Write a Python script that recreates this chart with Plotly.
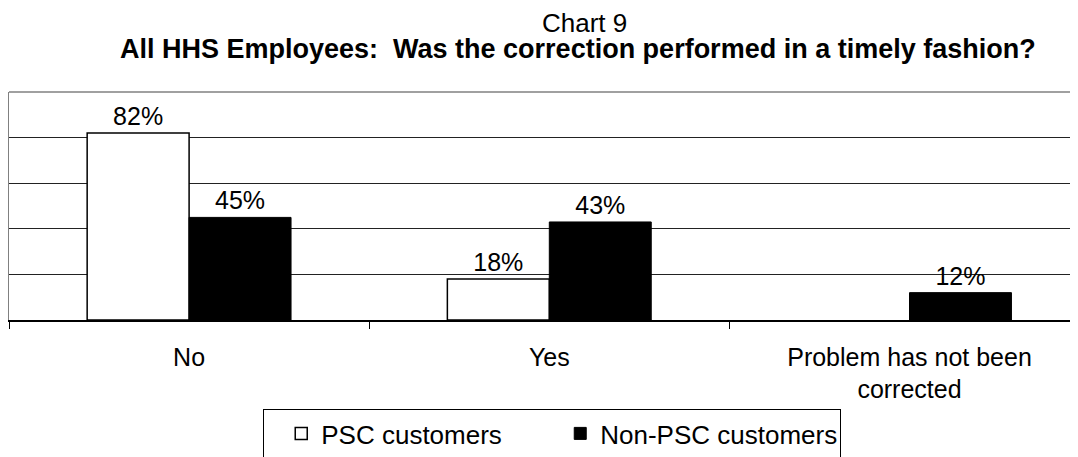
import plotly.graph_objects as go

categories = ["No", "Yes", "Problem has not been<br>corrected"]
psc_values = [82, 18, None]
non_psc_values = [45, 43, 12]
series_names = ["PSC customers", "Non-PSC customers"]
title_line1 = "Chart 9"
title_line2 = "All HHS Employees:&nbsp; Was the correction performed in a timely fashion?"
grid_values = [20, 40, 60, 80]

FONT = "Liberation Sans, Arial, sans-serif"
W, H = 1078, 457
# the page body adds an 8px offset; margins are set to compensate
L, R, T, B = 1, 0, 84, 145
PW = W - L - R
PH = H - T - B

fig = go.Figure()
fig.add_trace(go.Bar(
    x=categories, y=psc_values, name=series_names[0],
    marker=dict(color="white", line=dict(color="black", width=1.5)),
    texttemplate="%{y}%", textposition="outside",
    textfont=dict(family=FONT, size=25, color="black"),
    cliponaxis=False,
))
fig.add_trace(go.Bar(
    x=categories, y=non_psc_values, name=series_names[1],
    marker=dict(color="black", line=dict(color="black", width=1)),
    texttemplate="%{y}%", textposition="outside",
    textfont=dict(family=FONT, size=25, color="black"),
    cliponaxis=False,
))

fig.update_layout(
    width=W, height=H,
    margin=dict(l=L, r=R, t=T, b=B, autoexpand=False),
    paper_bgcolor="white", plot_bgcolor="white",
    barmode="group", bargap=0.434, bargroupgap=0,
    font=dict(family=FONT, size=25, color="black"),
    showlegend=True,
    legend=dict(
        orientation="h", x=(255 - L) / PW, y=-89 / PH,
        xanchor="left", yanchor="top",
        bordercolor="black", borderwidth=1, bgcolor="white",
        font=dict(family=FONT, size=26, color="black"),
        title=dict(text="&nbsp;", side="left", font=dict(size=26)),
        entrywidth=234, entrywidthmode="pixels",
        traceorder="normal",
    ),
    xaxis=dict(
        range=[-0.5, 2.49],
        showline=True, linecolor="black", linewidth=1.5,
        ticks="outside", tickson="boundaries", ticklen=7, tickcolor="black", tickwidth=1,
        showgrid=False, ticklabelstandoff=14,
        tickfont=dict(family=FONT, size=25, color="black"),
        fixedrange=True,
    ),
    yaxis=dict(
        range=[0, 100], tickvals=grid_values, showticklabels=False,
        showgrid=True, gridcolor="#222222", gridwidth=1,
        showline=True, linecolor="#808080", linewidth=1.5,
        zeroline=False, ticks="", fixedrange=True,
    ),
    shapes=[dict(type="line", xref="paper", yref="paper", x0=0, x1=1, y0=1, y1=1,
                 line=dict(color="#808080", width=1.5))],
    annotations=[
        dict(text=title_line1, xref="paper", yref="paper", x=(576 - L) / PW, y=1.302,
             xanchor="center", yanchor="middle", showarrow=False,
             font=dict(family=FONT, size=26, color="black")),
        dict(text="<b>" + title_line2 + "</b>", xref="paper", yref="paper", x=(570 - L) / PW, y=1.187,
             xanchor="center", yanchor="middle", showarrow=False,
             font=dict(family=FONT, size=27, color="black")),
    ],
)

fig.write_html("out.html")
